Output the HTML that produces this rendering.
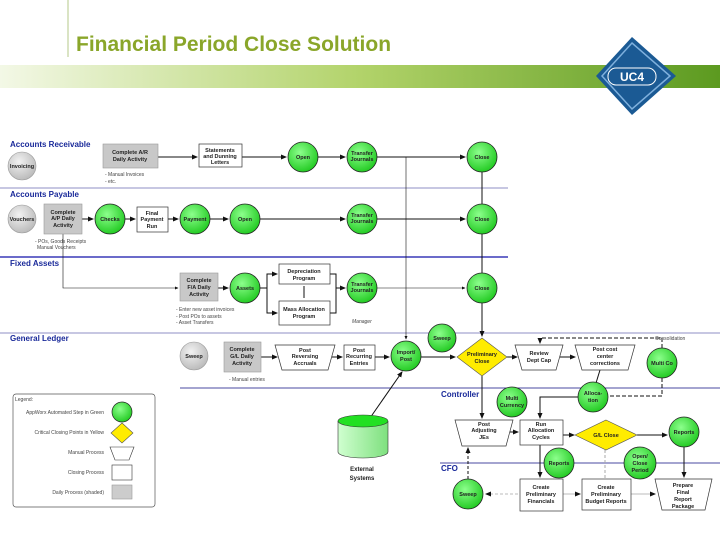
<!DOCTYPE html>
<html><head><meta charset="utf-8"><style>
body{margin:0;background:#fff;width:720px;height:540px;overflow:hidden}
svg{display:block}
text{font-family:"Liberation Sans",sans-serif}
.t{font-size:5.5px;text-anchor:middle;fill:#222;font-weight:bold}
.n{font-size:5px;fill:#444}
.h{font-size:8px;font-weight:bold;fill:#1a2a9a}
.l{stroke:#111;stroke-width:1;fill:none}
</style></head><body>
<svg width="720" height="540" viewBox="0 0 720 540">
<defs>
<radialGradient id="g" cx="0.4" cy="0.35" r="0.7"><stop offset="0" stop-color="#8cff8c"/><stop offset="1" stop-color="#1ec81e"/></radialGradient>
<radialGradient id="gr" cx="0.4" cy="0.35" r="0.7"><stop offset="0" stop-color="#f2f2f2"/><stop offset="1" stop-color="#b8b8b8"/></radialGradient>
<linearGradient id="band" x1="0" x2="1"><stop offset="0" stop-color="#f3f8e6"/><stop offset="0.5" stop-color="#b2d36a"/><stop offset="1" stop-color="#5c9a20"/></linearGradient>
<linearGradient id="cyl" x1="0" x2="1"><stop offset="0" stop-color="#d0ffd0"/><stop offset="1" stop-color="#7ee07e"/></linearGradient>
<marker id="a" markerWidth="6" markerHeight="6" refX="5" refY="3" orient="auto"><path d="M0,0.5L6,3L0,5.5z" fill="#111"/></marker>
</defs>
<line x1="68" y1="0" x2="68" y2="57" stroke="#b5c88a" stroke-width="1"/>
<text x="76" y="51" style="font-size:21px;font-weight:bold;fill:#8aa62a">Financial Period Close Solution</text>
<rect x="0" y="65" width="720" height="23" fill="url(#band)"/>
<polygon points="632,37 676,76 632,115 596,76" fill="#1b5a94"/>
<polygon points="632,43 670,76 632,109 602,76" fill="none" stroke="#7fb0dd" stroke-width="1.5"/>
<rect x="608" y="68" width="48" height="17" rx="8" fill="#1b5a94" stroke="#fff" stroke-width="1"/>
<text x="632" y="81" style="font-size:12px;font-weight:bold;fill:#fff;text-anchor:middle">UC4</text>

<line x1="0" y1="188" x2="508" y2="188" stroke="#6a6ab0" stroke-width="0.8"/>
<line x1="0" y1="257" x2="508" y2="257" stroke="#3a3ab8" stroke-width="1.5"/>
<line x1="0" y1="333" x2="720" y2="333" stroke="#6a6ab0" stroke-width="0.8"/>
<line x1="180" y1="388" x2="720" y2="388" stroke="#4a4aa0" stroke-width="1"/>
<line x1="440" y1="463" x2="720" y2="463" stroke="#4a4aa0" stroke-width="1"/>
<text class="h" x="10" y="147">Accounts Receivable</text>
<text class="h" x="10" y="197">Accounts Payable</text>
<text class="h" x="10" y="266">Fixed Assets</text>
<text class="h" x="10" y="341">General Ledger</text>
<text class="h" x="441" y="397">Controller</text>
<text class="h" x="441" y="471">CFO</text>

<g class="l">
<line x1="158" y1="157" x2="197" y2="157" marker-end="url(#a)"/>
<line x1="242" y1="157" x2="286" y2="157" marker-end="url(#a)"/>
<line x1="318" y1="157" x2="345" y2="157" marker-end="url(#a)"/>
<line x1="377" y1="157" x2="465" y2="157" marker-end="url(#a)"/>
<line x1="82" y1="219" x2="93" y2="219" marker-end="url(#a)"/>
<line x1="125" y1="219" x2="135" y2="219" marker-end="url(#a)"/>
<line x1="168" y1="219" x2="178" y2="219" marker-end="url(#a)"/>
<line x1="210" y1="219" x2="228" y2="219" marker-end="url(#a)"/>
<line x1="260" y1="219" x2="345" y2="219" marker-end="url(#a)"/>
<line x1="377" y1="219" x2="465" y2="219" marker-end="url(#a)"/>
<polyline points="63,234 63,288 178,288" marker-end="url(#a)" stroke-width="0.6"/>
<line x1="218" y1="288" x2="228" y2="288" marker-end="url(#a)"/>
<polyline points="260,288 267,288 267,274 277,274" marker-end="url(#a)"/>
<polyline points="267,288 267,313 277,313" marker-end="url(#a)"/>
<line x1="304" y1="286" x2="304" y2="298"/>
<polyline points="330,274 336,274 336,313 330,313"/>
<line x1="336" y1="288" x2="345" y2="288" marker-end="url(#a)"/>
<line x1="377" y1="288" x2="465" y2="288" marker-end="url(#a)" stroke-width="0.6"/>
<line x1="406" y1="157" x2="406" y2="339" marker-end="url(#a)" stroke-width="0.6"/>
<line x1="482" y1="172" x2="482" y2="336" marker-end="url(#a)"/>
<line x1="261" y1="357" x2="277" y2="357" marker-end="url(#a)"/>
<line x1="332" y1="357" x2="342" y2="357" marker-end="url(#a)"/>
<line x1="375" y1="357" x2="389" y2="357" marker-end="url(#a)"/>
<line x1="421" y1="357" x2="455" y2="357" marker-end="url(#a)"/>
<line x1="507" y1="357" x2="517" y2="357" marker-end="url(#a)"/>
<line x1="560" y1="357" x2="575" y2="357" marker-end="url(#a)"/>
<line x1="482" y1="376" x2="482" y2="418" marker-end="url(#a)"/>
<line x1="600" y1="370" x2="592" y2="396" marker-end="url(#a)"/>
<polyline points="578,397 540,397 540,418" marker-end="url(#a)"/>
<line x1="505" y1="432" x2="518" y2="432" marker-end="url(#a)"/>
<line x1="563" y1="435" x2="574" y2="435" marker-end="url(#a)"/>
<line x1="637" y1="435" x2="667" y2="435" marker-end="url(#a)"/>
<line x1="540" y1="445" x2="540" y2="477" marker-end="url(#a)"/>
<line x1="684" y1="447" x2="684" y2="477" marker-end="url(#a)"/>
<line x1="370" y1="418" x2="402" y2="372" marker-end="url(#a)"/>
<line x1="468" y1="479" x2="468" y2="448" marker-end="url(#a)" stroke-dasharray="3,2"/>
<polyline points="662,348 662,338 540,338 540,343" marker-end="url(#a)" stroke-dasharray="4,2"/>
<polyline points="662,378 662,396 609,396" stroke-dasharray="4,2"/>
<line x1="605" y1="450" x2="605" y2="479" stroke="#aaa" stroke-dasharray="3,2"/>
<line x1="518" y1="494" x2="486" y2="494" stroke="#bbb" marker-end="url(#a)" stroke-dasharray="3,2"/>
<line x1="563" y1="494" x2="580" y2="494" stroke="#bbb" marker-end="url(#a)"/>
<line x1="631" y1="494" x2="655" y2="494" stroke="#bbb" marker-end="url(#a)"/>
</g>

<g stroke="#999" stroke-width="0.6" fill="url(#gr)">
<circle cx="22" cy="166" r="14"/><circle cx="22" cy="219" r="14"/><circle cx="194" cy="356" r="14"/>
</g>
<g fill="#c8c8c8" stroke="#999" stroke-width="0.6">
<rect x="103" y="144" width="55" height="24"/><rect x="44" y="204" width="38" height="30"/>
<rect x="180" y="273" width="38" height="28"/><rect x="224" y="342" width="37" height="30"/>
</g>
<g fill="#fff" stroke="#333" stroke-width="0.7">
<rect x="199" y="144" width="43" height="23"/><rect x="137" y="207" width="31" height="25"/>
<rect x="279" y="264" width="51" height="20"/><rect x="279" y="301" width="51" height="24"/>
<rect x="344" y="345" width="31" height="25"/><rect x="520" y="420" width="43" height="25"/>
<rect x="520" y="479" width="43" height="32"/><rect x="582" y="479" width="49" height="31"/>
<polygon points="275,345 335,345 328,370 282,370"/>
<polygon points="515,345 563,345 556,370 522,370"/>
<polygon points="575,345 635,345 628,370 582,370"/>
<polygon points="455,420 513,420 506,446 462,446"/>
<polygon points="655,479 712,479 705,510 662,510"/>
</g>
<g fill="#ffec00" stroke="#555" stroke-width="0.6">
<polygon points="482,338 507,357 482,376 457,357"/>
<polygon points="606,420 637,435 606,450 575,435"/>
</g>
<g fill="url(#g)" stroke="#222" stroke-width="0.8">
<circle cx="303" cy="157" r="15"/><circle cx="362" cy="157" r="15"/><circle cx="482" cy="157" r="15"/>
<circle cx="110" cy="219" r="15"/><circle cx="195" cy="219" r="15"/><circle cx="245" cy="219" r="15"/>
<circle cx="362" cy="219" r="15"/><circle cx="482" cy="219" r="15"/>
<circle cx="245" cy="288" r="15"/><circle cx="362" cy="288" r="15"/><circle cx="482" cy="288" r="15"/>
<circle cx="406" cy="356" r="15"/><circle cx="442" cy="338" r="14"/><circle cx="662" cy="363" r="15"/>
<circle cx="512" cy="402" r="15"/><circle cx="593" cy="397" r="15"/><circle cx="684" cy="432" r="15"/>
<circle cx="559" cy="463" r="15"/><circle cx="640" cy="463" r="16"/><circle cx="468" cy="494" r="15"/>
</g>
<path d="M338,421 L338,452 A25,6 0 0 0 388,452 L388,421" fill="url(#cyl)" stroke="#333" stroke-width="0.6"/>
<ellipse cx="363" cy="421" rx="25" ry="6" fill="#22e022" stroke="#333" stroke-width="0.6"/>
<text class="t" x="362" y="471" style="font-size:6px">External</text>
<text class="t" x="362" y="480" style="font-size:6px">Systems</text>

<g class="t">
<text x="22" y="168">Invoicing</text>
<text x="130" y="154">Complete A/R</text><text x="130" y="161">Daily Activity</text>
<text x="220" y="152">Statements</text><text x="220" y="158">and Dunning</text><text x="220" y="164">Letters</text>
<text x="303" y="159">Open</text>
<text x="362" y="155">Transfer</text><text x="362" y="161">Journals</text>
<text x="482" y="159">Close</text>
<text x="22" y="221">Vouchers</text>
<text x="63" y="214">Complete</text><text x="63" y="220">A/P Daily</text><text x="63" y="227">Activity</text>
<text x="110" y="221">Checks</text>
<text x="152" y="215">Final</text><text x="152" y="221">Payment</text><text x="152" y="228">Run</text>
<text x="195" y="221">Payment</text><text x="245" y="221">Open</text>
<text x="362" y="217">Transfer</text><text x="362" y="223">Journals</text>
<text x="482" y="221">Close</text>
<text x="199" y="282">Complete</text><text x="199" y="289">F/A Daily</text><text x="199" y="296">Activity</text>
<text x="245" y="290">Assets</text>
<text x="304" y="273">Depreciation</text><text x="304" y="280">Program</text>
<text x="304" y="311">Mass Allocation</text><text x="304" y="318">Program</text>
<text x="362" y="286">Transfer</text><text x="362" y="292">Journals</text>
<text x="482" y="290">Close</text>
<text x="194" y="358">Sweep</text>
<text x="242" y="351">Complete</text><text x="242" y="358">G/L Daily</text><text x="242" y="365">Activity</text>
<text x="305" y="352">Post</text><text x="305" y="358">Reversing</text><text x="305" y="365">Accruals</text>
<text x="359" y="352">Post</text><text x="359" y="358">Recurring</text><text x="359" y="365">Entries</text>
<text x="406" y="354">Import/</text><text x="406" y="361">Post</text>
<text x="442" y="340">Sweep</text>
<text x="482" y="356">Preliminary</text><text x="482" y="363">Close</text>
<text x="539" y="355">Review</text><text x="539" y="362">Dept Cap</text>
<text x="605" y="351">Post cost</text><text x="605" y="358">center</text><text x="605" y="365">corrections</text>
<text x="662" y="365">Multi Co</text>
<text x="512" y="400">Multi</text><text x="512" y="407">Currency</text>
<text x="593" y="395">Alloca-</text><text x="593" y="402">tion</text>
<text x="484" y="426">Post</text><text x="484" y="432">Adjusting</text><text x="484" y="439">JEs</text>
<text x="541" y="426">Run</text><text x="541" y="432">Allocation</text><text x="541" y="439">Cycles</text>
<text x="606" y="437">G/L Close</text>
<text x="684" y="434">Reports</text>
<text x="559" y="465">Reports</text>
<text x="640" y="458">Open/</text><text x="640" y="465">Close</text><text x="640" y="472">Period</text>
<text x="468" y="496">Sweep</text>
<text x="541" y="489">Create</text><text x="541" y="496">Preliminary</text><text x="541" y="503">Financials</text>
<text x="606" y="489">Create</text><text x="606" y="496">Preliminary</text><text x="606" y="503">Budget Reports</text>
<text x="683" y="487">Prepare</text><text x="683" y="494">Final</text><text x="683" y="501">Report</text><text x="683" y="508">Package</text>
</g>
<g class="n">
<text x="105" y="176">- Manual Invoices</text><text x="105" y="183">- etc.</text>
<text x="35" y="243">- POs, Goods Receipts</text><text x="37" y="249">Manual Vouchers</text>
<text x="176" y="311">- Enter new asset invoices</text><text x="176" y="318">- Post POs to assets</text><text x="176" y="324">- Asset Transfers</text>
<text x="352" y="323" style="font-style:italic">Manager</text>
<text x="229" y="381">- Manual entries</text>
<text x="655" y="340">Consolidation</text>
</g>

<rect x="13" y="394" width="142" height="113" rx="3" fill="#fff" stroke="#555" stroke-width="0.7"/>
<g class="n" style="text-anchor:end">
<text x="15" y="401" style="text-anchor:start">Legend:</text>
<text x="104" y="414">AppWorx Automated Step in Green</text>
<text x="104" y="434">Critical Closing Points in Yellow</text>
<text x="104" y="454">Manual Process</text>
<text x="104" y="474">Closing Process</text>
<text x="104" y="494">Daily Process (shaded)</text>
</g>
<circle cx="122" cy="412" r="10" fill="url(#g)" stroke="#222" stroke-width="0.7"/>
<polygon points="122,423 133,433 122,443 111,433" fill="#ffec00" stroke="#555" stroke-width="0.6"/>
<polygon points="110,447 134,447 129,460 115,460" fill="#fff" stroke="#333" stroke-width="0.6"/>
<rect x="112" y="465" width="20" height="15" fill="#fff" stroke="#333" stroke-width="0.6"/>
<rect x="112" y="485" width="20" height="14" fill="#ccc" stroke="#999" stroke-width="0.6"/>
</svg>
</body></html>
